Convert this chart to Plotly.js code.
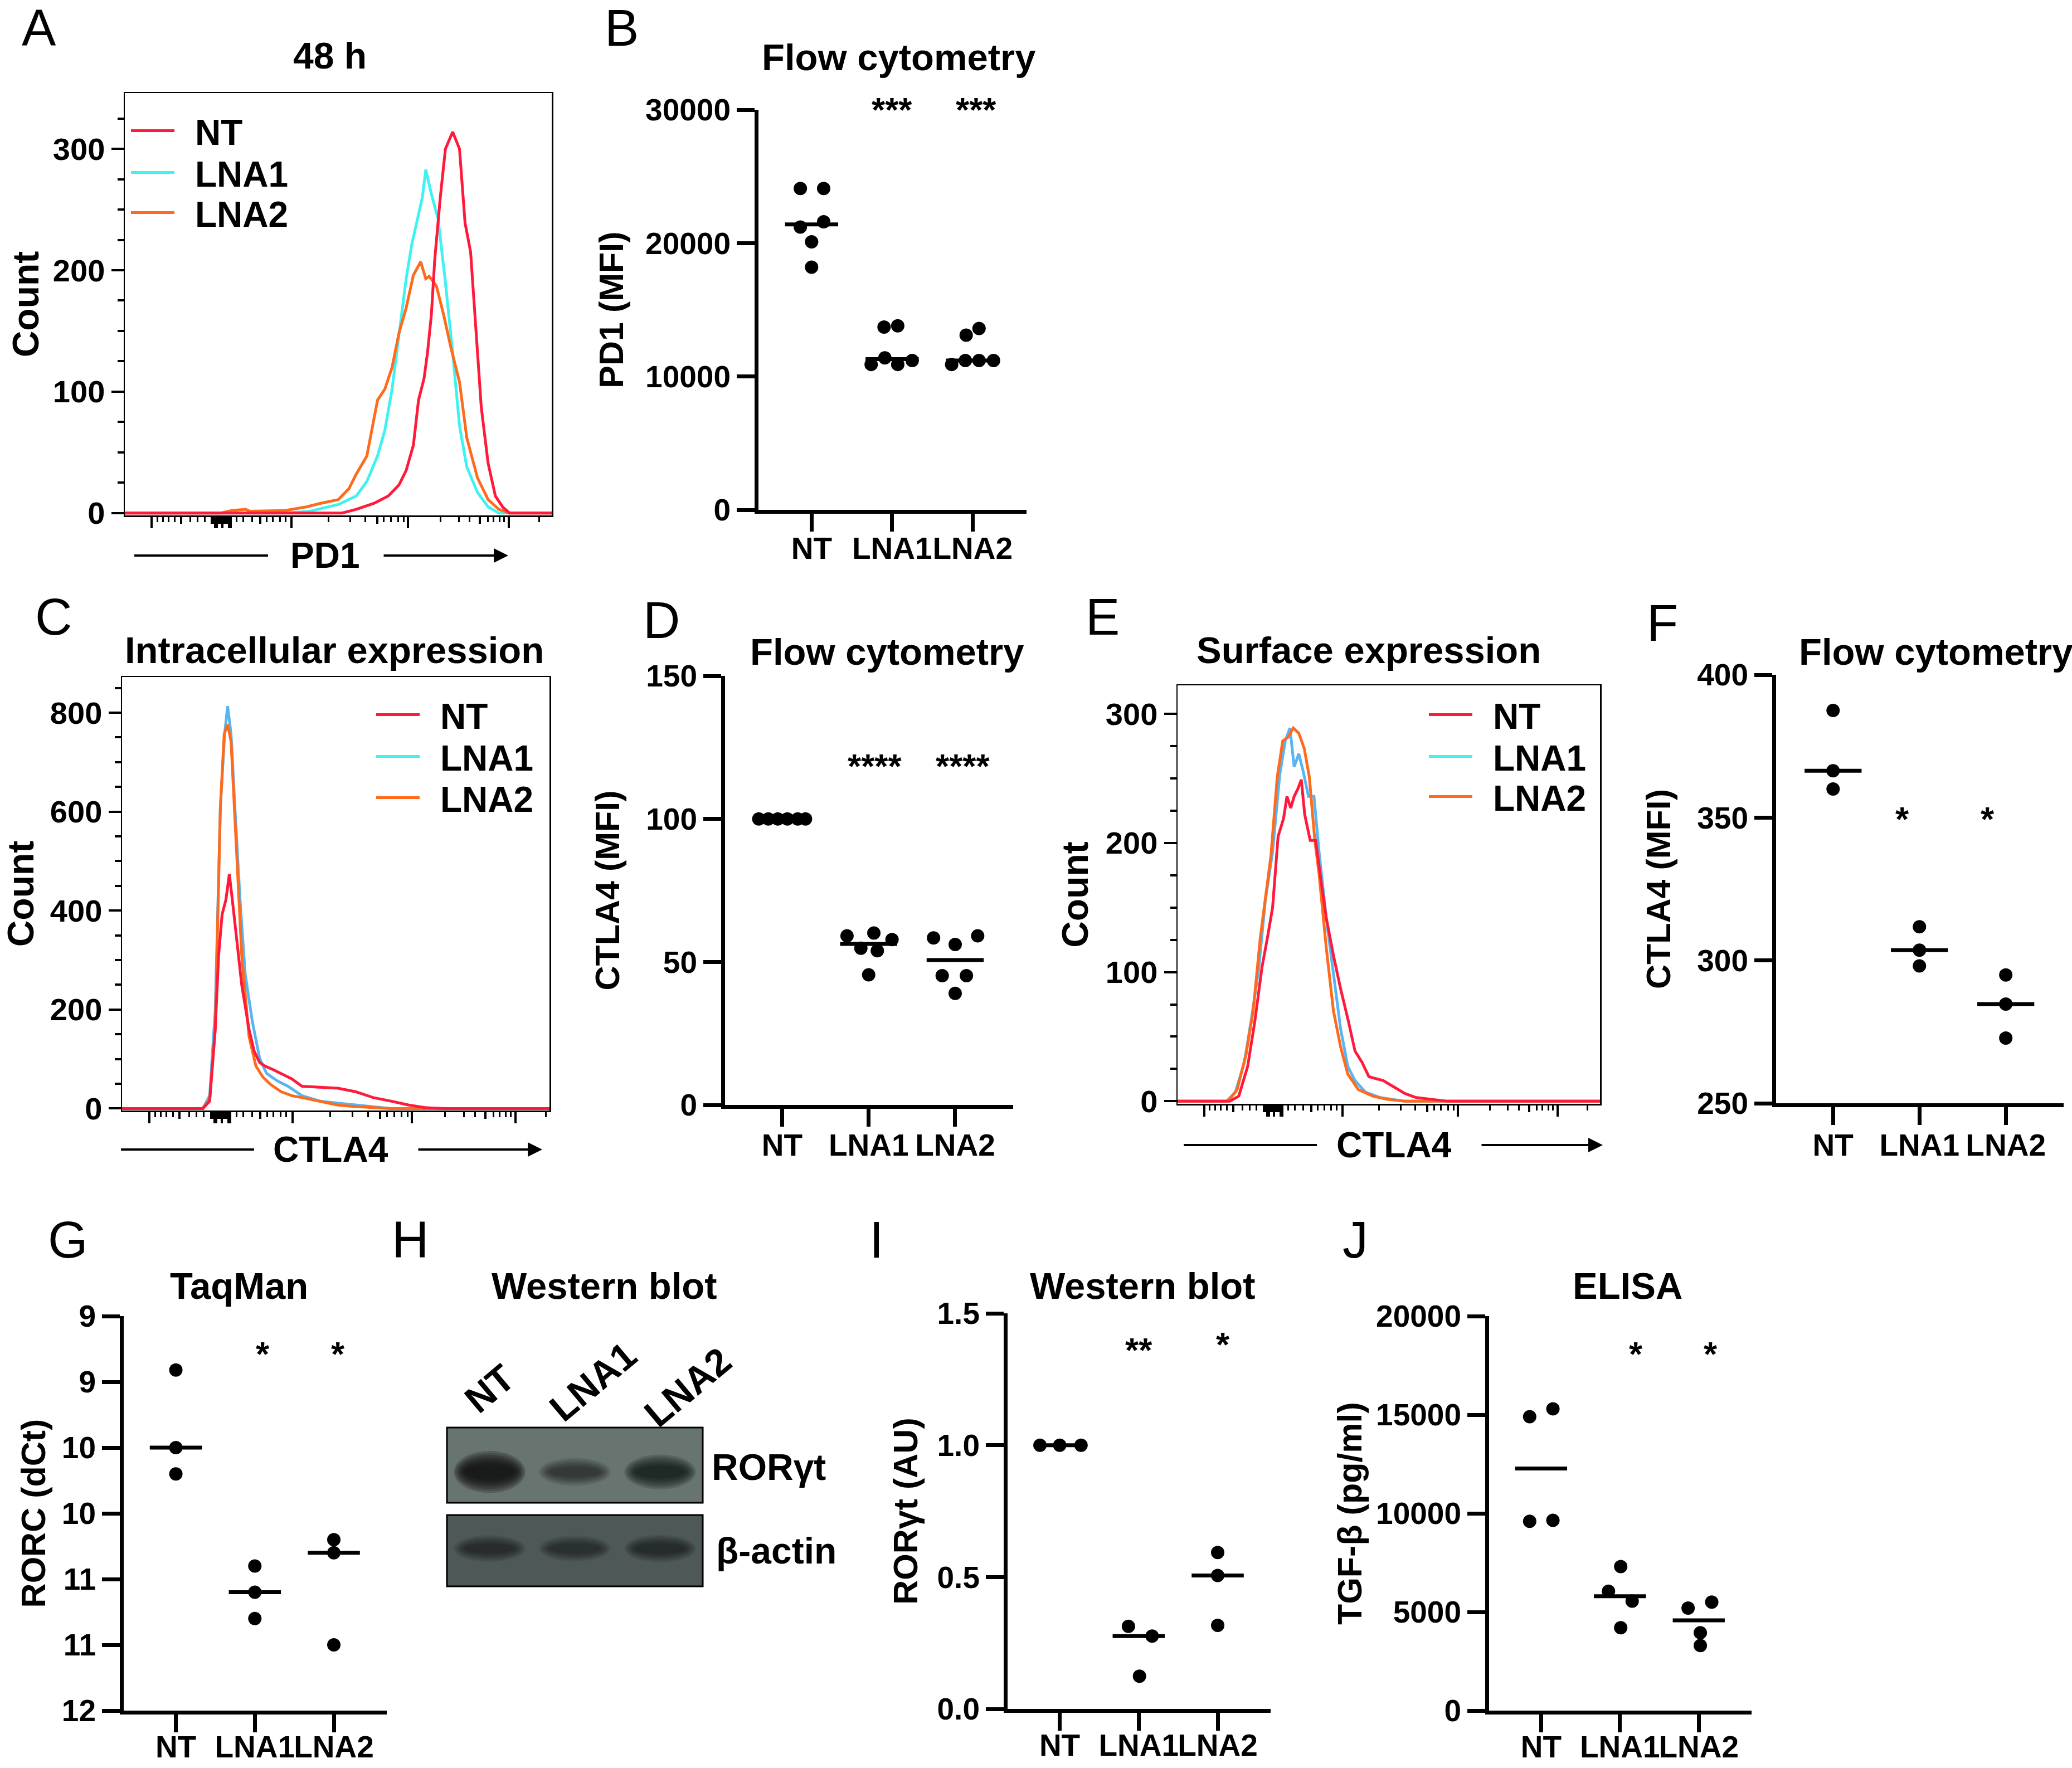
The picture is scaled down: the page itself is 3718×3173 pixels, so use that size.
<!DOCTYPE html>
<html><head><meta charset="utf-8">
<script src="https://cdn.plot.ly/plotly-3.0.1.min.js"></script>
<style>html,body{margin:0;padding:0;background:#fff;}#chart{width:3718px;height:3173px;}</style>
</head><body><div id="chart"></div>
<script>
// ---------------- DATA ----------------
const groups = ['NT', 'LNA1', 'LNA2'];

// Panel A: PD1 histogram, 48 h (x = display channel 0-1000, y = count)
const A_NT_x   = [0,509,542,584,617,642,659,676,688,701,709,718,726,739,751,768,784,797,810,822,835,851,868,885,901,1000];
const A_NT_y   = [0,0,3,8,14,23,35,56,93,111,132,163,209,260,300,314,300,239,215,157,87,41,14,5,0,0];
const A_LNA1_x = [0,375,434,500,542,567,592,609,626,642,659,672,684,697,705,718,734,751,768,784,801,826,851,876,1000];
const A_LNA1_y = [0,0,1.5,7,14,26,47,68,102,148,193,221,239,260,283,263,242,190,132,72,38,17,5,0,0];
const A_LNA2_x = [0,225,250,283,292,375,425,459,500,525,542,567,592,609,626,642,659,676,693,705,713,730,747,764,784,801,826,851,876,901,1000];
const A_LNA2_y = [0,0,2,3,1.5,2,5,8,11,20,32,47,93,102,120,148,169,196,207,193,195,187,163,136,108,62,29,11,3,0,0];

// Panel B: PD1 MFI
const B_NT   = [24100, 24100, 21600, 21200, 20100, 18200];
const B_LNA1 = [13700, 13800, 11400, 10900, 10900, 11200];
const B_LNA2 = [13100, 13600, 10900, 11200, 11200, 11200];
const B_sig  = ['', '***', '***'];

// Panel C: intracellular CTLA4 histogram
const C_NT_x   = [0,189,205,218,226,234,243,251,259,268,280,297,309,322,334,355,372,397,421,463,505,546,588,629,671,712,754,1000];
const C_NT_y   = [0,0,15,160,310,392,422,474,414,347,250,160,116,93,86,78,71,60,45,43,41,34,22,15,7,1.5,0,0];
const C_LNA1_x = [0,189,205,218,230,240,247,255,264,276,288,305,322,338,363,388,421,463,505,546,588,629,1000];
const C_LNA1_y = [0,0,26,198,608,757,813,757,608,422,272,175,101,71,56,45,26,15,11,7,4,0,0];
const C_LNA2_x = [0,189,205,218,230,239,247,255,268,280,297,313,330,347,372,397,421,463,505,546,588,629,1000];
const C_LNA2_y = [0,0,19,160,608,757,776,742,519,310,146,86,63,49,34,26,22,15,7,4,1.5,0,0];

// Panel D: CTLA4 MFI (intracellular)
const D_NT   = [100, 100, 100, 100, 100, 100];
const D_LNA1 = [59.1, 60.1, 57.8, 54.8, 53.9, 45.5];
const D_LNA2 = [58.4, 56.1, 59.1, 45.2, 45.2, 39.0];
const D_sig  = ['', '****', '****'];

// Panel E: surface CTLA4 histogram
const E_NT_x   = [0,124,145,166,183,200,213,225,238,251,259,268,276,285,293,301,314,327,340,352,369,386,403,420,437,453,487,512,538,563,597,639,1000];
const E_NT_y   = [0,0,4,27,62,104,127,150,205,219,236,227,236,242,249,222,202,202,170,142,113,87,64,39,30,19,16,11,6,3,1.5,0,0];
const E_LNA1_x = [0,116,137,158,175,192,208,225,242,255,266,276,287,297,310,323,335,352,369,386,403,420,445,478,538,1000];
const E_LNA1_y = [0,0,7,30,64,102,156,193,253,279,289,259,269,256,236,236,193,142,99,56,27,16,7,3,0,0];
const E_LNA2_x = [0,120,141,162,179,196,221,236,249,262,274,287,300,312,325,335,352,369,386,403,428,462,495,538,1000];
const E_LNA2_y = [0,0,9,36,70,127,190,251,279,282,289,285,273,251,202,176,119,70,42,21,9,4,1.5,0,0];

// Panel F: CTLA4 MFI (surface)
const F_NT   = [387.5, 366.4, 360.0];
const F_LNA1 = [311.8, 303.6, 298.1];
const F_LNA2 = [294.9, 284.7, 272.8];
const F_sig  = ['', '*', '*'];

// Panel G: RORC TaqMan (dCt, reversed axis)
const G_NT   = [9.41, 10.0, 10.2];
const G_LNA1 = [10.9, 11.1, 11.3];
const G_LNA2 = [10.7, 10.8, 11.5];
const G_sig  = ['', '*', '*'];
const G_tickvals = [9, 9.5, 10, 10.5, 11, 11.5, 12];
const G_ticktext = ['9', '9', '10', '10', '11', '11', '12'];

// Panel H: western blot band intensities (relative darkness)
const H_RORgt = [1.0, 0.45, 0.72];
const H_actin = [0.45, 0.42, 0.48];

// Panel I: RORgt western blot quantification
const I_NT   = [1.0, 1.0, 1.0];
const I_LNA1 = [0.313, 0.276, 0.124];
const I_LNA2 = [0.593, 0.506, 0.317];
const I_sig  = ['', '**', '*'];

// Panel J: TGF-beta ELISA
const J_NT   = [14900, 15300, 9600, 9650];
const J_LNA1 = [7300, 6050, 5550, 4200];
const J_LNA2 = [5200, 5500, 3950, 3300];
const J_sig  = ['', '*', '*'];

// horizontal spread of dots inside each column (category units)
const B_spread = [[-0.14,0.15,0.15,-0.14,0,0],[-0.10,0.07,-0.09,-0.26,0.07,0.25],[-0.08,0.08,-0.26,-0.09,0.08,0.26]];
const D_spread = [[-0.27,-0.16,-0.05,0.06,0.18,0.27],[-0.25,0.06,0.27,-0.09,0.10,0],[-0.25,0,0.26,-0.15,0.13,0]];
const F_spread = [[0,0,0],[0,0,0],[0,0,0]];
const G_spread = [[0,0,0],[0,0,0],[0,0,0]];
const I_spread = [[-0.25,0,0.27],[-0.13,0.17,0.01],[0,0,0]];
const J_spread = [[-0.145,0.15,-0.145,0.15],[0.01,-0.145,0.155,0.01],[-0.135,0.165,0.02,0.02]];

// Flow-cytometry (biexponential) axis tick marks, display channel units
const HIST_LONG  = [63, 212, 216, 228, 244, 248, 390, 663, 900];
const HIST_MID   = [132, 317, 591, 832, 204, 208, 220, 224, 232, 236, 240];
const HIST_SHORT = [76,89,102,117,154,171,187,262,278,298,332,347,363,376,477,528,563,607,623,640,654,739,782,808,850,864,878,889,970];

// ---------------- LAYOUT HELPERS ----------------
const W = 3718, H = 3173;
const FONT = 'Liberation Sans, Arial, Helvetica, sans-serif';
const bold = (s) => ({family: FONT, size: s, color: '#000', weight: 'bold'});
const C_RED = '#FF1A3C', C_CYAN = '#3FF2F2', C_BLUE = '#57B5F2', C_ORANGE = '#FF6A1C';
const GAP = '\u2002';  // gap between legend line and legend text
const xd = (a, b) => [a / W, b / W];
const yd = (top, bottom) => [1 - bottom / H, 1 - top / H];
const px = (p) => p / W, py = (p) => 1 - p / H;
const axKey = (c, n) => n === 1 ? c + 'axis' : c + 'axis' + n;
const axRef = (c, n) => n === 1 ? c : c + n;

const traces = [];
const layout = {
  width: W, height: H, margin: {l: 0, r: 0, t: 0, b: 0},
  paper_bgcolor: '#fff', plot_bgcolor: 'rgba(0,0,0,0)',
  font: {family: FONT, size: 52, color: '#000'},
  showlegend: true, annotations: [], shapes: [], hovermode: false
};

function median(a) {
  const s = [...a].sort((p, q) => p - q), m = s.length / 2;
  return s.length % 2 ? s[Math.floor(m)] : (s[m - 1] + s[m]) / 2;
}

function addText(text, x, y, size, opts) {
  layout.annotations.push(Object.assign({
    text, x: px(x), y: py(y), xref: 'paper', yref: 'paper', showarrow: false,
    xanchor: 'center', yanchor: 'middle', font: bold(size)
  }, opts || {}));
}

function legendAt(key, xLeft, yCenter) {
  layout[key] = {
    x: px(xLeft), y: py(yCenter), xref: 'paper', yref: 'paper', xanchor: 'left', yanchor: 'middle',
    bgcolor: 'rgba(0,0,0,0)', borderwidth: 0, font: bold(64), itemwidth: 78, tracegroupgap: 0
  };
}

function histPanel(o) {
  const xr = axRef('x', o.xa), yr = axRef('y', o.ya);
  const tm = o.tickMap || (t => t);
  layout[axKey('x', o.xa)] = {
    domain: xd(o.xDom[0], o.xDom[1]), anchor: yr, range: [0, 1000],
    showline: true, mirror: true, linecolor: '#000', linewidth: 2.5,
    showgrid: false, zeroline: false, fixedrange: true,
    ticks: 'outside', tickmode: 'array', tickvals: HIST_LONG.map(tm), ticklen: 20, tickwidth: 4, tickcolor: '#000',
    showticklabels: false,
    minor: {ticks: 'outside', tickmode: 'array', tickvals: HIST_SHORT.map(tm), ticklen: 9, tickwidth: 3, tickcolor: '#000', showgrid: false}
  };
  layout[axKey('x', o.ov)] = {
    overlaying: xr, anchor: yr, side: 'bottom', range: [0, 1000], showline: false, showgrid: false, zeroline: false,
    ticks: 'outside', tickmode: 'array', tickvals: HIST_MID.map(tm), ticklen: 14, tickwidth: 4, tickcolor: '#000',
    showticklabels: false, fixedrange: true
  };
  traces.push({type: 'scatter', x: [], y: [], xaxis: axRef('x', o.ov), yaxis: yr, showlegend: false, hoverinfo: 'skip'});
  layout[axKey('y', o.ya)] = {
    domain: yd(o.yDom[0], o.yDom[1]), anchor: xr, range: o.yRange,
    showline: true, mirror: true, linecolor: '#000', linewidth: 2.5,
    showgrid: false, zeroline: false, fixedrange: true,
    ticks: 'outside', tickmode: 'array', tickvals: o.yMajor, ticklen: 22, tickwidth: 4, tickcolor: '#000',
    tickfont: bold(56),
    minor: {ticks: 'outside', tickmode: 'array', tickvals: o.yMinor, ticklen: 11, tickwidth: 4, tickcolor: '#000', showgrid: false},
    title: {text: 'Count', font: bold(66), standoff: o.yStandoff}
  };
  // curves (drawn LNA1, LNA2, then NT on top)
  o.curves.forEach(c => {
    traces.push({type: 'scatter', mode: 'lines', name: GAP + c.name, x: c.x, y: c.y, xaxis: xr, yaxis: yr,
      line: {color: c.color, width: 5}, showlegend: !c.legendColor, legend: c.legend, hoverinfo: 'skip'});
    if (c.legendColor) {
      traces.push({type: 'scatter', mode: 'lines', name: GAP + c.name, x: [null], y: [null], xaxis: xr, yaxis: yr,
        line: {color: c.legendColor, width: 5}, showlegend: true, legend: c.legend, hoverinfo: 'skip'});
    }
  });
  // axis label with arrow underneath the axis
  const ay = o.arrowY;
  addText(o.xTitle, o.titleX, ay, 64);
  layout.shapes.push({type: 'line', xref: 'paper', yref: 'paper', x0: px(o.arrowL[0]), x1: px(o.arrowL[1]), y0: py(ay), y1: py(ay), line: {color: '#000', width: 4}});
  layout.annotations.push({xref: 'paper', yref: 'paper', x: px(o.arrowR[1]), y: py(ay), ax: o.arrowR[0] - o.arrowR[1], ay: 0,
    axref: 'pixel', ayref: 'pixel', text: '', showarrow: true, arrowhead: 2, arrowsize: 1.3, arrowwidth: 4, arrowcolor: '#000'});
}

function dotPanel(o) {
  const xr = axRef('x', o.n), yr = axRef('y', o.n);
  layout[axKey('x', o.n)] = {
    domain: xd(o.xDom[0], o.xDom[1]), anchor: yr, range: [-0.66, 2.67],
    showline: true, linecolor: '#000', linewidth: 7, showgrid: false, zeroline: false, fixedrange: true,
    ticks: 'outside', tickmode: 'array', tickvals: [0, 1, 2], ticktext: groups, ticklen: 32, tickwidth: 7, tickcolor: '#000',
    tickfont: bold(55), tickangle: 0, ticklabelstandoff: o.xLabelShift
  };
  const ya = {
    domain: yd(o.yDom[0], o.yDom[1]), anchor: xr, range: o.yRange,
    showline: true, linecolor: '#000', linewidth: 7, showgrid: false, zeroline: false, fixedrange: true,
    ticks: 'outside', tickmode: 'array', tickvals: o.yTicks, ticklen: 32, tickwidth: 7, tickcolor: '#000',
    tickfont: bold(55), title: {text: o.yTitle, font: bold(61), standoff: o.yStandoff}
  };
  if (o.yTickText) ya.ticktext = o.yTickText;
  if (o.yFormat) ya.tickformat = o.yFormat;
  layout[axKey('y', o.n)] = ya;
  o.vals.forEach((v, g) => {
    traces.push({type: 'scatter', mode: 'markers', name: groups[g], x: v.map((_, i) => g + o.spread[g][i]), y: v,
      xaxis: xr, yaxis: yr, marker: {color: '#000', size: 24}, showlegend: false, cliponaxis: false, hoverinfo: 'skip'});
  });
  const mx = [], my = [];
  o.vals.forEach((v, g) => { const m = median(v); mx.push(g - 0.33, g + 0.33, null); my.push(m, m, null); });
  traces.push({type: 'scatter', mode: 'lines', x: mx, y: my, xaxis: xr, yaxis: yr, line: {color: '#000', width: 7},
    showlegend: false, cliponaxis: false, hoverinfo: 'skip'});
  o.sig.forEach((s, g) => {
    if (!s) return;
    layout.annotations.push({text: s, xref: xr, yref: yr, x: g + o.sigDx[g], y: o.sigY[g], showarrow: false,
      xanchor: 'center', yanchor: 'middle', yshift: (o.sigShift || 0) - 12, font: bold(62)});
  });
}

// ---------------- PANELS ----------------
// A
histPanel({xa: 1, ya: 1, ov: 12, xDom: [224, 990], yDom: [167, 925], yRange: [-2, 346],
  yMajor: [0, 100, 200, 300], yMinor: [25, 50, 75, 125, 150, 175, 225, 250, 275, 325], yStandoff: 4,
  xTitle: 'PD1', titleX: 583, arrowY: 997, arrowL: [241, 481], arrowR: [687, 912],
  curves: [
    {name: 'LNA1', x: A_LNA1_x, y: A_LNA1_y, color: C_CYAN, legend: 'legend2'},
    {name: 'LNA2', x: A_LNA2_x, y: A_LNA2_y, color: C_ORANGE, legend: 'legend3'},
    {name: 'NT', x: A_NT_x, y: A_NT_y, color: C_RED, legend: 'legend'}
  ]});
legendAt('legend', 230, 235); legendAt('legend2', 230, 310); legendAt('legend3', 230, 382);

// C
histPanel({xa: 3, ya: 3, ov: 13, xDom: [219, 986], yDom: [1215, 1993], yRange: [-4, 872],
  yMajor: [0, 200, 400, 600, 800], yMinor: [50, 100, 150, 250, 300, 350, 450, 500, 550, 650, 700, 750, 850], yStandoff: 16,
  tickMap: t => 64 + (t - 63) * 1.0227,
  xTitle: 'CTLA4', titleX: 593, arrowY: 2063, arrowL: [217, 456], arrowR: [749, 973],
  curves: [
    {name: 'LNA1', x: C_LNA1_x, y: C_LNA1_y, color: C_BLUE, legend: 'legend5', legendColor: C_CYAN},
    {name: 'LNA2', x: C_LNA2_x, y: C_LNA2_y, color: C_ORANGE, legend: 'legend6'},
    {name: 'NT', x: C_NT_x, y: C_NT_y, color: C_RED, legend: 'legend4'}
  ]});
legendAt('legend4', 670, 1283); legendAt('legend5', 670, 1358); legendAt('legend6', 670, 1432);

// E
histPanel({xa: 5, ya: 5, ov: 14, xDom: [2113, 2871], yDom: [1230, 1981], yRange: [-2, 322],
  yMajor: [0, 100, 200, 300], yMinor: [25, 50, 75, 125, 150, 175, 225, 250, 275], yStandoff: 10,
  xTitle: 'CTLA4', titleX: 2501, arrowY: 2055, arrowL: [2124, 2363], arrowR: [2657, 2876],
  curves: [
    {name: 'LNA1', x: E_LNA1_x, y: E_LNA1_y, color: C_BLUE, legend: 'legend8', legendColor: C_CYAN},
    {name: 'LNA2', x: E_LNA2_x, y: E_LNA2_y, color: C_ORANGE, legend: 'legend9'},
    {name: 'NT', x: E_NT_x, y: E_NT_y, color: C_RED, legend: 'legend7'}
  ]});
legendAt('legend7', 2559, 1283); legendAt('legend8', 2559, 1358); legendAt('legend9', 2559, 1430);

// B
dotPanel({n: 2, xDom: [1361, 1842], yDom: [197, 915], yRange: [0, 30000], yTicks: [0, 10000, 20000, 30000], yFormat: 'd',
  yTitle: 'PD1 (MFI)', yStandoff: 22, xLabelShift: -17, vals: [B_NT, B_LNA1, B_LNA2], spread: B_spread,
  sig: B_sig, sigY: [0, 30000, 30000], sigDx: [0, 0, 0.04], sigShift: 12});
// D
dotPanel({n: 4, xDom: [1301, 1818], yDom: [1213, 1983], yRange: [0, 150], yTicks: [0, 50, 100, 150],
  yTitle: 'CTLA4 (MFI)', yStandoff: 30, xLabelShift: -14, vals: [D_NT, D_LNA1, D_LNA2], spread: D_spread,
  sig: D_sig, sigY: [0, 120.8, 120.8], sigDx: [0, 0.07, 0.09]});
// F
dotPanel({n: 6, xDom: [3187, 3703], yDom: [1211, 1980], yRange: [250, 400], yTicks: [250, 300, 350, 400],
  yTitle: 'CTLA4 (MFI)', yStandoff: 30, xLabelShift: -11, vals: [F_NT, F_LNA1, F_LNA2], spread: F_spread,
  sig: F_sig, sigY: [0, 352, 352], sigDx: [0, -0.2, -0.21]});
// G
dotPanel({n: 7, xDom: [222, 694], yDom: [2362, 3070], yRange: [12, 9], yTicks: G_tickvals, yTickText: G_ticktext,
  yTitle: 'RORC (dCt)', yStandoff: 12, xLabelShift: -21, vals: [G_NT, G_LNA1, G_LNA2], spread: G_spread,
  sig: G_sig, sigY: [0, 9.235, 9.235], sigDx: [0, 0.1, 0.05]});
// I
dotPanel({n: 10, xDom: [1808, 2280], yDom: [2357, 3067], yRange: [0, 1.5], yTicks: [0, 0.5, 1.0, 1.5], yFormat: '.1f',
  yTitle: 'RORγt (AU)', yStandoff: 18, xLabelShift: -21, vals: [I_NT, I_LNA1, I_LNA2], spread: I_spread,
  sig: I_sig, sigY: [0, 1.387, 1.408], sigDx: [0, 0, 0.07]});
// J
dotPanel({n: 11, xDom: [2672, 3143], yDom: [2362, 3070], yRange: [0, 20000], yTicks: [0, 5000, 10000, 15000, 20000], yFormat: 'd',
  yTitle: 'TGF-β (pg/ml)', yStandoff: 8, xLabelShift: -21, vals: [J_NT, J_LNA1, J_LNA2], spread: J_spread,
  sig: J_sig, sigY: [0, 18433, 18433], sigDx: [0, 0.2, 0.15]});

// H: western blot strips
function blotStrip(n, yTop, yBot, bg, bands, cy) {
  const xr = axRef('x', n), yr = axRef('y', n);
  layout[axKey('x', n)] = {domain: xd(802, 1261), anchor: yr, range: [-0.5, 2.5], visible: false, fixedrange: true};
  layout[axKey('y', n)] = {domain: yd(yTop, yBot), anchor: xr, range: [0, 1], visible: false, fixedrange: true};
  traces.push({type: 'scatter', x: [], y: [], xaxis: xr, yaxis: yr, showlegend: false, hoverinfo: 'skip'});
  layout.shapes.push({type: 'rect', xref: xr + ' domain', yref: yr + ' domain', x0: 0, x1: 1, y0: 0, y1: 1,
    fillcolor: bg, line: {width: 0}, layer: 'below'});
  const LAYERS = 8;
  bands.forEach((v, lane) => {
    const hw = 0.42, hh = 0.11 + 0.17 * v, a = 0.2 * v;
    for (let k = 0; k < LAYERS; k++) {
      const f = k / LAYERS, sx = 1 - 0.35 * f, sy = 1 - 0.75 * f;
      layout.shapes.push({type: 'circle', xref: xr, yref: yr, x0: lane - hw * sx, x1: lane + hw * sx,
        y0: cy - hh * sy, y1: cy + hh * sy, fillcolor: 'rgba(8,12,12,' + a.toFixed(3) + ')', line: {width: 0}, layer: 'above'});
    }
  });
  layout.shapes.push({type: 'rect', xref: xr + ' domain', yref: yr + ' domain', x0: 0, x1: 1, y0: 0, y1: 1,
    fillcolor: 'rgba(0,0,0,0)', line: {width: 3, color: '#000'}, layer: 'above'});
}
blotStrip(8, 2562, 2697, '#68746f', H_RORgt, 0.41);
blotStrip(9, 2719, 2847, '#4e5858', H_actin, 0.53);
[[878, 2492], [1064, 2479], [1234, 2489]].forEach((p, i) => addText(groups[i], p[0], p[1], 68, {textangle: -40}));
addText('RORγt', 1275, 2633, 66, {xanchor: 'left'});
addText('β-actin', 1283, 2783, 66, {xanchor: 'left'});

// Panel titles
addText('48 h', 592, 100, 66);
addText('Flow cytometry', 1612, 103, 67);
addText('Intracellular expression', 600, 1167, 67);
addText('Flow cytometry', 1591, 1170, 67);
addText('Surface expression', 2456, 1167, 67);
addText('Flow cytometry', 3473, 1170, 67);
addText('TaqMan', 429, 2307, 67);
addText('Western blot', 1084, 2307, 67);
addText('Western blot', 2050, 2307, 67);
addText('ELISA', 2920, 2307, 67);

// Panel letters
const reg = (s) => ({family: FONT, size: s, color: '#000', weight: 'normal'});
[['A', 70, 50], ['B', 1115, 50], ['C', 96, 1107], ['D', 1187, 1113], ['E', 1978, 1107], ['F', 2983, 1118],
 ['G', 122, 2225], ['H', 736, 2225], ['I', 1573, 2225], ['J', 2432, 2225]].forEach(l =>
  addText(l[0], l[1], l[2], 92, {font: reg(92)}));

Plotly.newPlot('chart', traces, layout, {staticPlot: true, displayModeBar: false});
</script></body></html>
